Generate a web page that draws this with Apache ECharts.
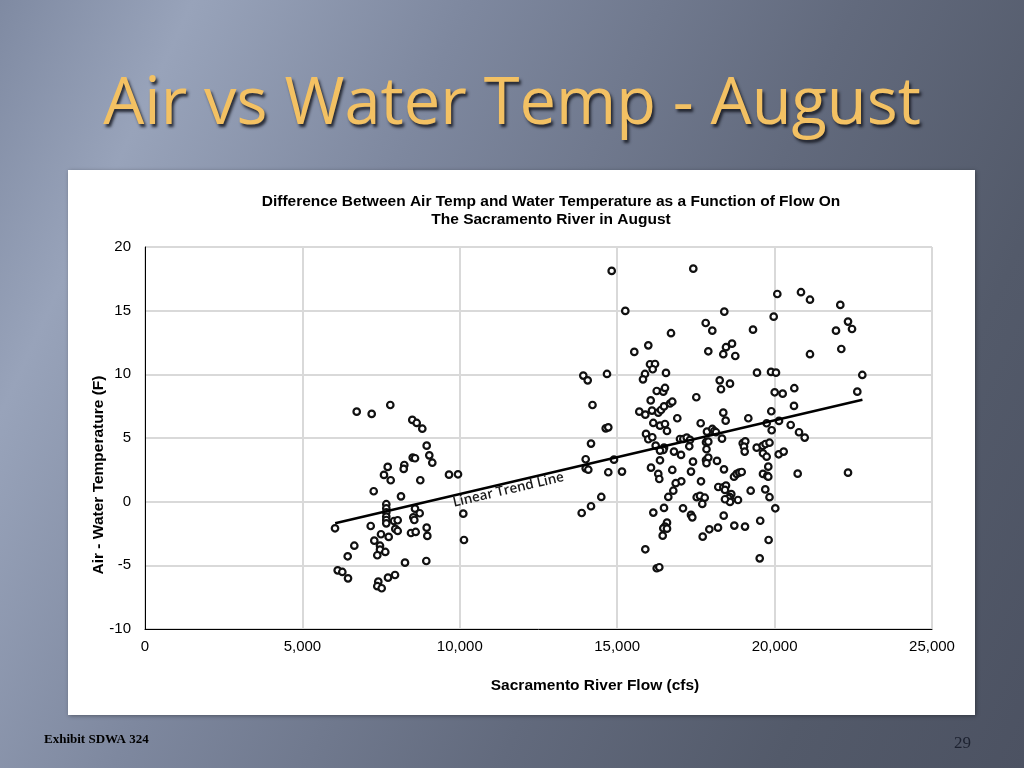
<!DOCTYPE html>
<html>
<head>
<meta charset="utf-8">
<script src="https://cdn.jsdelivr.net/npm/echarts/dist/echarts.min.js"></script>
<style>
  html, body { margin: 0; padding: 0; }
  body {
    width: 1024px; height: 768px; overflow: hidden;
    background: linear-gradient(115deg, #7f8aa2 0%, #98a3ba 14%, #7e889f 34%, #626a7d 62%, #535a6a 82%, #4c5262 100%);
  }
  #main { width: 1024px; height: 768px; }
</style>
</head>
<body>
<div id="main"></div>
<script>
// Slide and chart texts
const slideTitle = 'Air vs Water Temp - August';
const chartTitle = 'Difference Between Air Temp and Water Temperature as a Function of Flow On\nThe Sacramento River in August';
const xAxisName = 'Sacramento River Flow (cfs)';
const yAxisName = 'Air - Water Temperature (F)';
const trendLabel = 'Linear Trend Line';
const footerLeft = 'Exhibit SDWA 324';
const pageNumber = '29';

// Axis ranges / ticks
const xTicks = [0, 5000, 10000, 15000, 20000, 25000];
const yTicks = [-10, -5, 0, 5, 10, 15, 20];

// Observations [flow (cfs), air - water temperature (F)]
const lowFlowObs = [
  [6725,7.07],[7201,6.89],[7792,7.59],[8491,6.42],[8631,6.18],[8809,5.73],[8948,4.40],[9031,3.64],[9126,3.06],[8504,3.46],
  [8577,3.41],[8237,2.88],[8218,2.57],[7710,2.73],[7592,2.10],[7805,1.68],[8745,1.68],[9657,2.12],[9943,2.15],[7265,0.82],
  [8132,0.42],[7665,-0.20],[7665,-0.52],[7665,-0.83],[7665,-1.18],[7665,-1.44],[7665,-1.70],[8577,-0.55],[8726,-0.91],[8523,-1.23],
  [8555,-1.44],[10111,-0.94],[6036,-2.09],[7170,-1.91],[7910,-1.52],[8027,-1.46],[7951,-2.14],[8027,-2.30],[8948,-2.04],[8450,-2.46],
  [8599,-2.38],[7497,-2.56],[7741,-2.77],[8968,-2.69],[10133,-3.01],[7284,-3.06],[6649,-3.46],[7465,-3.46],[7465,-3.77],[7633,-3.95],
  [7379,-4.21],[6439,-4.29],[8259,-4.79],[8936,-4.66],[6121,-5.39],[6268,-5.52],[6449,-6.02],[7719,-5.97],[7942,-5.76],[7411,-6.28],
  [7379,-6.64],[7519,-6.80]
];
const midFlowObs = [
  [14825,18.12],[15257,14.98],[15988,12.28],[15543,11.76],[16042,10.79],[16201,10.81],[16128,10.40],[16550,10.11],[15883,10.03],[15819,9.61],
  [13923,9.90],[14063,9.53],[14676,10.03],[16255,8.69],[16464,8.64],[16518,8.93],[14215,7.59],[16064,7.95],[15702,7.07],[15893,6.83],
  [16105,7.15],[16305,6.99],[16391,7.20],[16487,7.48],[16677,7.71],[16750,7.85],[14635,5.76],[14717,5.84],[16147,6.18],[16359,5.97],
  [16518,6.10],[16582,5.55],[15915,5.32],[15988,4.90],[16115,5.06],[14168,4.56],[16223,4.40],[16487,4.24],[16464,4.06],[16359,4.01],
  [13999,3.33],[13999,2.62],[14082,2.51],[14898,3.30],[14717,2.31],[15152,2.36],[16359,3.25],[16074,2.67],[16305,2.18],[16337,1.78],
  [14495,0.37],[16623,0.37],[14168,-0.36],[13872,-0.89],[16487,-0.49],[16147,-0.86],[16582,-1.65],[16518,-1.96],[16464,-2.09],[16582,-2.12],
  [16445,-2.67],[15893,-3.74],[16255,-5.23],[16337,-5.15]
];
const highFlowObs = [
  [17417,18.30],[18402,14.92],[17811,14.03],[18021,13.43],[16709,13.23],[19314,13.51],[17894,11.81],[18456,12.13],[18647,12.41],[18370,11.58],
  [18751,11.44],[19441,10.13],[19886,10.19],[20044,10.13],[18256,9.53],[18583,9.27],[18297,8.83],[17513,8.20],[18370,6.99],[19895,7.10],
  [16909,6.55],[18446,6.36],[19165,6.55],[17652,6.16],[17852,5.50],[18021,5.71],[18085,5.55],[18138,5.45],[19748,6.16],[16995,4.92],
  [17100,4.92],[17208,5.03],[17312,4.85],[17290,4.35],[17821,4.67],[17894,4.71],[18329,4.95],[18987,4.59],[19069,4.74],[19028,4.32],
  [19050,3.93],[17837,4.12],[19431,4.24],[19622,4.39],[19712,4.53],[19838,4.63],[16804,3.93],[17027,3.67],[19631,3.80],[19748,3.53],
  [17408,3.14],[17821,3.27],[17894,3.46],[17837,3.02],[18170,3.20],[19799,2.75],[16750,2.49],[17344,2.36],[18392,2.54],[18710,1.96],
  [18796,2.18],[18879,2.28],[18955,2.33],[19631,2.18],[19768,2.02],[19799,1.96],[17036,1.60],[16858,1.45],[17662,1.60],[18211,1.15],
  [18370,1.13],[18456,1.26],[18424,0.92],[16782,0.86],[19240,0.86],[19704,0.96],[17525,0.35],[17630,0.45],[17780,0.31],[18624,0.60],
  [18583,0.35],[18529,0.27],[18583,-0.02],[18424,0.19],[18837,0.13],[17703,-0.18],[19838,0.35],[17090,-0.52],[17344,-1.04],[17386,-1.23],
  [18383,-1.10],[17716,-2.75],[17926,-2.17],[18202,-2.04],[18720,-1.88],[19060,-1.96],[19543,-1.50],[19810,-3.01],[19527,-4.45]
];
const veryHighFlowObs = [
  [20086,16.31],[20838,16.45],[21124,15.86],[22087,15.45],[19971,14.53],[22332,14.14],[21950,13.43],[22459,13.56],[22119,11.99],[21124,11.58],
  [22786,9.95],[20003,8.59],[20257,8.48],[20626,8.91],[22627,8.64],[20616,7.52],[20140,6.34],[20511,6.02],[19907,5.61],[20775,5.45],
  [20956,5.03],[20130,3.72],[20289,3.93],[20733,2.20],[22332,2.28],[20022,-0.52]
];

// Linear trend line end points [flow, value]
const trendFlow = [6040, 22790];
const trendValue = [-1.70, 8.00];

const chart = echarts.init(document.getElementById('main'), null, { renderer: 'canvas' });

const allObs = lowFlowObs.concat(midFlowObs, highFlowObs, veryHighFlowObs);
const trendData = trendFlow.map((f, i) => [f, trendValue[i]]);

const fmt = v => v.toLocaleString('en-US');
const axisNameFont = 'bold 15.5px "Liberation Sans", Arial';

chart.setOption({
  backgroundColor: 'transparent',
  animation: false,
  title: [
    {
      text: slideTitle,
      left: 'center',
      top: 68,
      textStyle: {
        fontFamily: 'Open Sans',
        fontSize: 65,
        fontWeight: 'normal',
        color: '#f3c163',
        textShadowColor: 'rgba(20,22,30,0.85)',
        textShadowBlur: 3,
        textShadowOffsetX: 2,
        textShadowOffsetY: 3
      }
    },
    {
      text: chartTitle,
      left: 546,
      textAlign: 'center',
      top: 188,
      textStyle: {
        fontFamily: 'Liberation Sans, Arial',
        fontSize: 15.5,
        fontWeight: 'bold',
        color: '#000',
        lineHeight: 18
      }
    }
  ],
  graphic: [
    {
      type: 'rect', z: -10, silent: true,
      shape: { x: 68, y: 170, width: 907, height: 545 },
      style: { fill: '#ffffff', shadowColor: 'rgba(0,0,0,0.35)', shadowBlur: 4, shadowOffsetX: 1, shadowOffsetY: 1 }
    },
    {
      type: 'text', z: 50, silent: true,
      x: 453, y: 503, rotation: 0.23,
      style: {
        text: trendLabel, fill: '#1a1a1a',
        font: '600 13.5px "Open Sans"',
        textAlign: 'left', textVerticalAlign: 'middle'
      }
    },
    {
      type: 'text', z: 50, silent: true, x: 595, y: 686,
      style: { text: xAxisName, fill: '#000', font: axisNameFont, textAlign: 'center', textVerticalAlign: 'middle' }
    },
    {
      type: 'text', z: 50, silent: true, x: 99, y: 475, rotation: Math.PI / 2,
      style: { text: yAxisName, fill: '#000', font: axisNameFont, textAlign: 'center', textVerticalAlign: 'middle' }
    },
    {
      type: 'text', silent: true, x: 44, y: 740,
      style: { text: footerLeft, fill: '#000', font: 'bold 13px "Liberation Serif"', textVerticalAlign: 'middle' }
    },
    {
      type: 'text', silent: true, x: 954, y: 744,
      style: { text: pageNumber, fill: '#1d2230', font: '17px "Liberation Serif"', textVerticalAlign: 'middle' }
    }
  ],
  grid: {
    left: 145, right: 92, top: 247, bottom: 139,
    show: true, borderColor: '#000', borderWidth: 1, backgroundColor: 'transparent'
  },
  xAxis: {
    type: 'value',
    min: xTicks[0], max: xTicks[xTicks.length - 1], interval: xTicks[1] - xTicks[0],
    axisLine: { show: true, onZero: false, lineStyle: { color: '#000', width: 1 } },
    axisTick: { show: false },
    axisLabel: { fontFamily: 'Liberation Sans, Arial', fontSize: 15, color: '#000', margin: 10, formatter: fmt },
    splitLine: { show: true, lineStyle: { color: '#d9d9d9', width: 2 } }
  },
  yAxis: {
    type: 'value',
    min: yTicks[0], max: yTicks[yTicks.length - 1], interval: yTicks[1] - yTicks[0],
    axisLine: { show: true, onZero: false, lineStyle: { color: '#000', width: 1 } },
    axisTick: { show: false },
    axisLabel: { fontFamily: 'Liberation Sans, Arial', fontSize: 15, color: '#000', margin: 14 },
    splitLine: { show: true, lineStyle: { color: '#d9d9d9', width: 2 } }
  },
  series: [
    {
      type: 'scatter',
      data: allObs,
      symbol: 'circle',
      symbolSize: 6.5,
      itemStyle: { color: '#ffffff', borderColor: '#111', borderWidth: 2.2, opacity: 1 },
      z: 3
    },
    {
      type: 'line',
      data: trendData,
      symbol: 'none',
      lineStyle: { color: '#000', width: 2.5 },
      z: 4
    }
  ]
});
</script>
</body>
</html>
